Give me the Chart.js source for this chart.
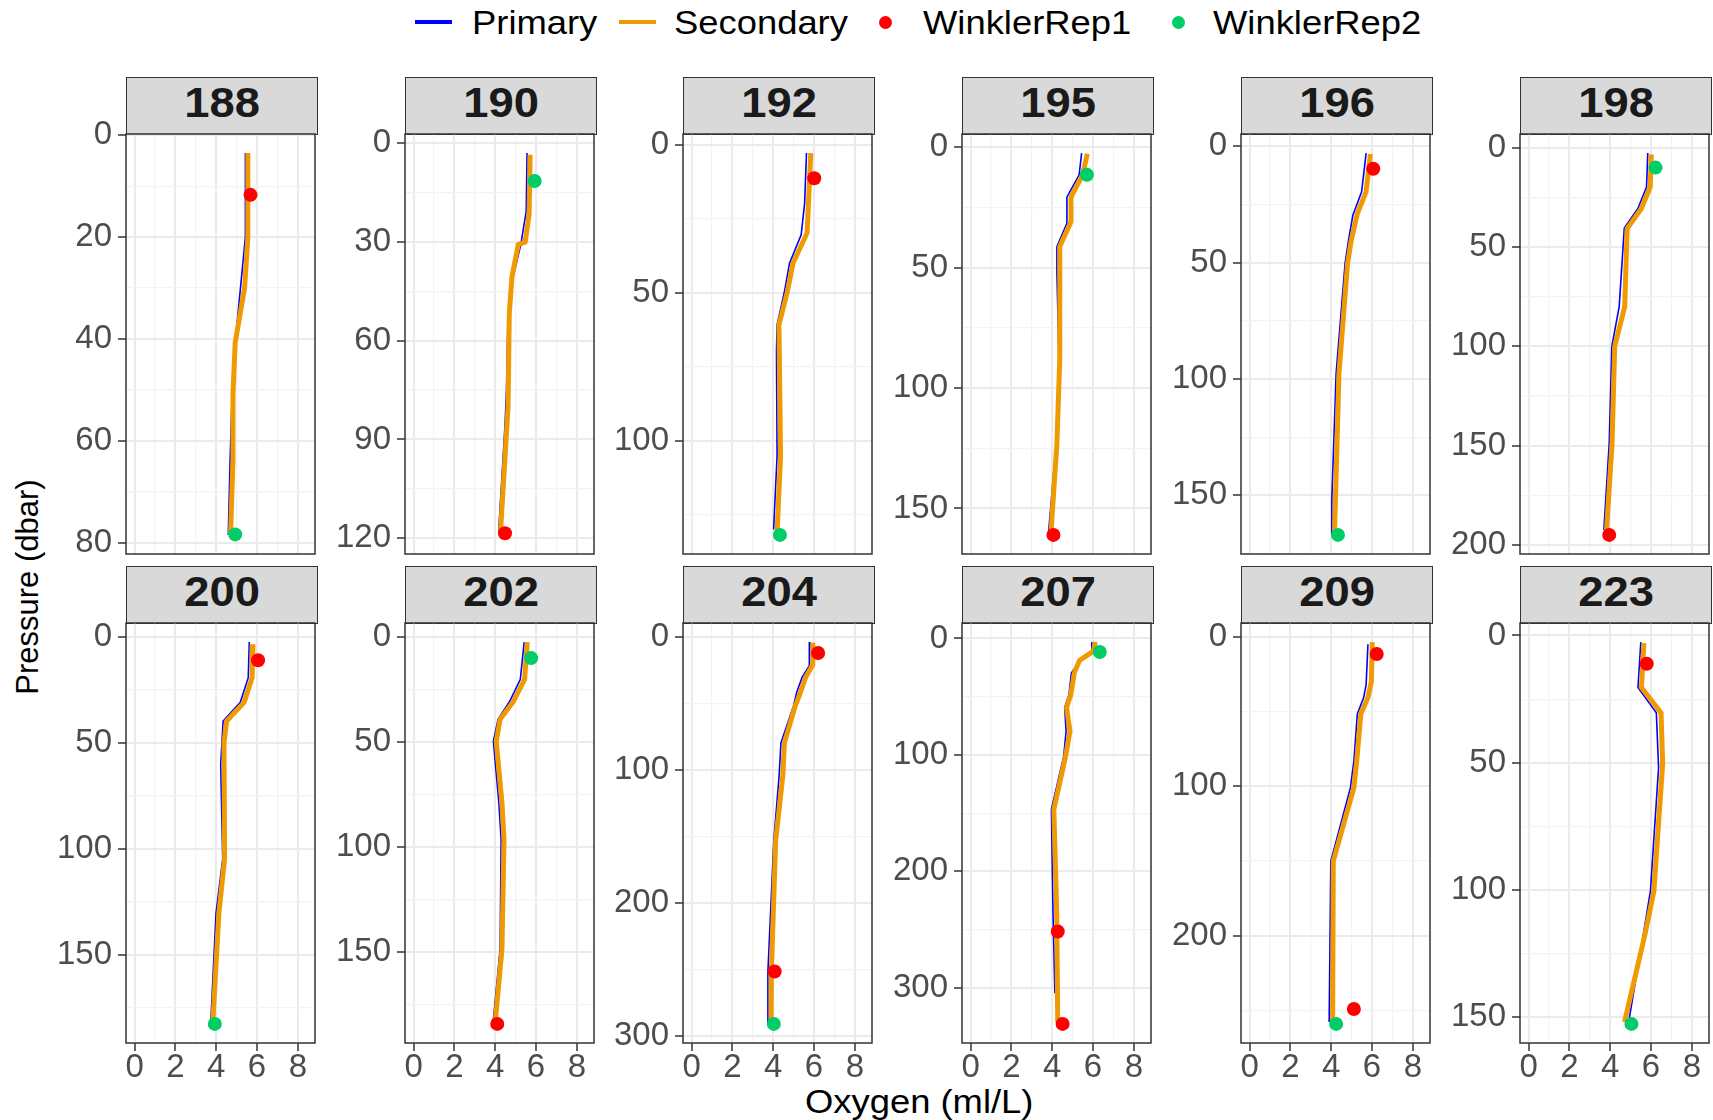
<!DOCTYPE html>
<html>
<head>
<meta charset="utf-8">
<script src="https://cdn.jsdelivr.net/npm/chart.js@4.4.1/dist/chart.umd.min.js"></script>
<style>
  body { margin: 0; background: #fff; width: 1713px; height: 1120px; overflow: hidden; position: relative;
         font-family: "Liberation Sans", Arial, sans-serif; }
  canvas { position: absolute; }
  .strip { position: absolute; box-sizing: border-box; background: #D9D9D9; border: 1.5px solid #333;
           display: flex; align-items: center; justify-content: center; font-weight: bold; font-size: 42px; color: #1A1A1A; }
  .strip span { display: inline-block; transform: translateY(-3px) scaleX(1.08); }
  .txt { position: absolute; white-space: nowrap; font-size: 34px; color: #000; height: 44px; line-height: 44px;
         transform-origin: left center; transform: scaleX(1.07); }
  .key { position: absolute; height: 4px; width: 37px; top: 20px; }
  .dot { position: absolute; width: 13px; height: 13px; border-radius: 50%; top: 16px; }
</style>
</head>
<body>

<div class="key" style="left:415px;background:#0000FF"></div>
<div class="txt" style="left:472px;top:0">Primary</div>
<div class="key" style="left:619px;background:#EE9A00"></div>
<div class="txt" style="left:674px;top:0">Secondary</div>
<div class="dot" style="left:879px;background:#FF0000"></div>
<div class="txt" style="left:923px;top:0">WinklerRep1</div>
<div class="dot" style="left:1172px;background:#00CD66"></div>
<div class="txt" style="left:1213px;top:0">WinklerRep2</div>

<div class="txt" id="xtitle" style="top:1079px;font-size:34px">Oxygen (ml/L)</div>
<div class="txt" id="ytitle" style="font-size:31px">Pressure (dbar)</div>

<script>
// stations (facets) and their major tick step on the pressure axis
const stations = ['188', '190', '192', '195', '196', '198', '200', '202', '204', '207', '209', '223'];
const majorStep = [20, 30, 50, 50, 50, 50, 50, 50, 100, 100, 100, 50];

// Primary sensor: oxygen (ml/L) and pressure (dbar)
const primaryO2 = [
  [5.43, 5.43, 4.93, 4.78, 4.68, 4.59],
  [5.56, 5.52, 5.26, 4.88, 4.63, 4.55, 4.48, 4.17],
  [5.63, 5.54, 5.37, 4.80, 4.54, 4.19, 4.16, 4.19, 4.02],
  [5.44, 5.32, 4.72, 4.72, 4.23, 4.23, 4.33, 4.20, 3.82],
  [5.71, 5.49, 5.06, 4.85, 4.68, 4.24, 4.03, 4.03],
  [5.84, 5.78, 5.35, 4.69, 4.44, 4.08, 3.95, 3.69],
  [5.62, 5.57, 5.18, 4.34, 4.22, 4.32, 3.99, 3.74],
  [5.42, 5.23, 4.71, 4.14, 3.91, 4.18, 4.29, 4.24, 3.91],
  [5.80, 5.77, 5.42, 5.16, 4.99, 4.38, 4.29, 4.03, 3.74, 3.74],
  [5.94, 5.94, 5.42, 4.94, 4.82, 4.61, 4.68, 4.56, 3.96, 4.04, 4.13],
  [5.80, 5.71, 5.59, 5.28, 5.11, 4.94, 3.98, 3.90],
  [5.50, 5.36, 6.26, 6.37, 5.97, 5.62, 4.92]
];
const primaryP = [
  [3.5, 20, 40.7, 51, 64, 78.5],
  [3.0, 20.6, 30.6, 40.6, 51.7, 75.7, 85.8, 117.9],
  [2.8, 19.7, 30.4, 40, 50, 60.8, 70, 105, 130],
  [2.5, 11.5, 20.8, 31.6, 41.3, 52, 88, 123, 160],
  [3.0, 19.6, 29.7, 40.4, 50.4, 97.7, 152, 166.5],
  [2.7, 19.8, 30.7, 40.4, 80, 100, 149, 192.5],
  [2.4, 19.2, 30.8, 39.7, 60.2, 104.7, 130.3, 180.8],
  [2.6, 20.3, 30.7, 39.3, 49.7, 79, 96.5, 148.5, 182.3],
  [3.6, 21.3, 30, 41, 52, 79.3, 104, 153, 251.6, 291],
  [3.1, 12.5, 17.2, 29.7, 48.4, 59.4, 79.7, 101.6, 146.9, 236, 304.7],
  [4.9, 32, 40.5, 51.5, 83, 101, 150, 257.8],
  [2.6, 20.4, 30.4, 51.9, 100.4, 117.6, 151.1]
];

// Secondary sensor
const secondaryO2 = [
  [5.55, 5.55, 5.39, 4.93, 4.82, 4.82, 4.70],
  [5.71, 5.66, 5.47, 5.13, 4.82, 4.69, 4.63, 4.25],
  [5.84, 5.66, 4.97, 4.68, 4.28, 4.36, 4.19],
  [5.72, 5.49, 4.92, 4.92, 4.37, 4.37, 4.23, 3.94],
  [5.92, 5.71, 5.28, 4.97, 4.80, 4.38, 4.16],
  [6.01, 5.96, 5.52, 4.83, 4.71, 4.22, 4.09, 3.82],
  [5.80, 5.76, 5.37, 4.51, 4.38, 4.41, 4.13, 3.84],
  [5.57, 5.44, 4.90, 4.24, 4.05, 4.33, 4.43, 4.33, 4.01],
  [5.94, 5.94, 5.59, 5.28, 5.07, 4.55, 4.47, 4.12, 3.91, 3.90],
  [6.11, 6.02, 5.34, 5.08, 4.91, 4.70, 4.87, 4.65, 4.08, 4.22, 4.27],
  [6.01, 5.97, 5.80, 5.45, 5.25, 5.11, 4.10, 4.07],
  [5.65, 5.53, 6.49, 6.57, 6.14, 5.70, 4.70]
];
const secondaryP = [
  [3.5, 20, 30, 40.7, 51, 64, 78.5],
  [3.5, 21.6, 30.0, 30.8, 40.6, 51.7, 80, 119],
  [2.8, 29.8, 40, 50, 60.8, 105, 131],
  [2.8, 11.5, 20.8, 31, 41.3, 88, 123, 160],
  [3.4, 19.6, 29, 41, 50.4, 97.7, 166.5],
  [3.4, 19.8, 30.7, 40.7, 80, 100, 149, 192.5],
  [3.4, 19.2, 30.8, 39.7, 50, 104.7, 130.3, 180.8],
  [2.6, 20.3, 30.7, 39.3, 49.7, 79, 96.5, 148.5, 182.3],
  [4.1, 20.5, 30, 43.8, 52, 79.3, 104, 153, 251.6, 291],
  [3.1, 10.9, 18.8, 29.7, 48.4, 59.4, 79.7, 101.6, 146.9, 236, 329.7],
  [3.4, 29.6, 40.5, 51.5, 83, 101, 150, 257.8],
  [3, 20.4, 30.4, 50.4, 100.4, 117.6, 151.9]
];

// Winkler titration replicates
const rep1O2 = [[5.68], [4.48], [6.01], [4.06], [6.06], [3.95], [6.05], [4.10], [6.20, 4.07], [4.27, 4.51], [6.23, 5.11], [5.79]];
const rep1P  = [[11.7], [118.5], [11.3], [161], [9.7], [195], [11], [184], [11.8, 251.6], [251.6, 331], [11.4, 249], [11.1]];
const rep2O2 = [[4.93], [5.93], [4.33], [5.70], [4.33], [6.22], [3.93], [5.76], [4.03], [6.33], [4.24], [5.04]];
const rep2P  = [[78.4], [11.5], [131.8], [11.5], [167], [10], [182.5], [10.2], [291], [11.6], [259], [152.6]];

const xTicks = [0, 2, 4, 6, 8];

// layout
const panelW = 192, plotH = 420, axisW = 90, stripH = 57;
const stripTop = [76.5, 566];
const colLeft = i => 125.8 + i * 278.8;

const panelBorder = {
  id: 'panelBorder',
  afterDraw(chart) {
    const a = chart.chartArea, c = chart.ctx;
    c.save();
    c.strokeStyle = '#333333';
    c.lineWidth = 1.5;
    c.strokeRect(a.left, a.top, a.right - a.left, a.bottom - a.top);
    c.restore();
  }
};

function pts(xs, ys) { return xs.map((x, k) => ({ x: x, y: ys[k] })); }
function isMult(v, s) { return Math.abs(v / s - Math.round(v / s)) < 1e-6; }
function stepTicks(lo, hi, step) {
  const out = [];
  for (let v = Math.ceil(lo / step) * step; v <= hi + 1e-9; v += step) out.push({ value: Math.round(v * 1000) / 1000 });
  return out;
}

stations.forEach((st, i) => {
  const row = i < 6 ? 0 : 1, col = i % 6;
  const bottom = row === 1;
  const L = colLeft(col);
  const pTop = stripTop[row] + stripH;

  const strip = document.createElement('div');
  strip.className = 'strip';
  strip.style.left = L + 'px';
  strip.style.top = stripTop[row] + 'px';
  strip.style.width = panelW + 'px';
  strip.style.height = (stripH + 1) + 'px';
  strip.innerHTML = '<span>' + st + '</span>';
  document.body.appendChild(strip);

  const allP = primaryP[i].concat(secondaryP[i], rep1P[i], rep2P[i]);
  const pmin = Math.min(...allP), pmax = Math.max(...allP);
  const pad = (pmax - pmin) * 0.05;
  const major = majorStep[i], minor = major / 2;

  const padTop = 22, padRight = 4, xH = bottom ? 52 : 0, padBottom = bottom ? 0 : 10;
  const cv = document.createElement('canvas');
  const W = axisW + panelW + padRight, H = padTop + plotH + xH + padBottom;
  cv.width = W; cv.height = H;
  cv.style.width = W + 'px'; cv.style.height = H + 'px';
  cv.style.left = (L - axisW) + 'px';
  cv.style.top = (pTop - padTop) + 'px';
  document.body.appendChild(cv);

  new Chart(cv, {
    type: 'line',
    data: {
      datasets: [
        { label: 'WinklerRep1', data: pts(rep1O2[i], rep1P[i]), showLine: false, pointRadius: 7,
          pointBackgroundColor: '#FF0000', pointBorderWidth: 0, order: 0 },
        { label: 'WinklerRep2', data: pts(rep2O2[i], rep2P[i]), showLine: false, pointRadius: 7,
          pointBackgroundColor: '#00CD66', pointBorderWidth: 0, order: 0 },
        { label: 'Secondary', data: pts(secondaryO2[i], secondaryP[i]), borderColor: '#EE9A00',
          borderWidth: 5, pointRadius: 0, tension: 0, order: 1 },
        { label: 'Primary', data: pts(primaryO2[i], primaryP[i]), borderColor: '#0000FF',
          borderWidth: 1.6, pointRadius: 0, tension: 0, order: 2 }
      ]
    },
    plugins: [panelBorder],
    options: {
      responsive: false,
      animation: false,
      layout: { padding: { top: padTop, right: padRight, bottom: padBottom, left: 0 } },
      plugins: { legend: { display: false }, tooltip: { enabled: false } },
      scales: {
        x: {
          type: 'linear', min: -0.42, max: 8.84,
          afterBuildTicks: s => { s.ticks = stepTicks(s.min, s.max, 1); },
          afterFit: s => { s.height = xH; s.paddingLeft = 0; s.paddingRight = 0; },
          border: { display: false },
          grid: {
            color: c => (c.tick && xTicks.includes(c.tick.value)) ? '#EBEBEB' : '#F3F3F3',
            lineWidth: c => (c.tick && xTicks.includes(c.tick.value)) ? 2 : 1.2,
            drawTicks: bottom, tickLength: 8, tickWidth: 1.5,
            tickColor: c => (c.tick && xTicks.includes(c.tick.value)) ? '#333333' : 'rgba(0,0,0,0)'
          },
          ticks: {
            display: bottom, color: '#4D4D4D', padding: -3, maxRotation: 0, autoSkip: false,
            font: { family: 'Liberation Sans', size: 33 },
            callback: v => xTicks.includes(v) ? String(v) : ''
          }
        },
        y: {
          type: 'linear', reverse: true, min: pmin - pad, max: pmax + pad,
          ticks: {
            stepSize: minor, color: '#4D4D4D', padding: 6, autoSkip: false,
            font: { family: 'Liberation Sans', size: 33 },
            callback: v => isMult(v, major) ? String(v) : ''
          },
          afterBuildTicks: s => { s.ticks = stepTicks(s.min, s.max, minor); },
          afterFit: s => { s.width = axisW; s.paddingTop = 0; s.paddingBottom = 0; },
          border: { display: false },
          grid: {
            color: c => (c.tick && isMult(c.tick.value, major)) ? '#EBEBEB' : '#F3F3F3',
            lineWidth: c => (c.tick && isMult(c.tick.value, major)) ? 2 : 1.2,
            tickLength: 8, tickWidth: 1.5,
            tickColor: c => (c.tick && isMult(c.tick.value, major)) ? '#333333' : 'rgba(0,0,0,0)'
          }
        }
      }
    }
  });
});

// axis titles centred on the panel block
const xt = document.getElementById('xtitle');
xt.style.left = (919 - xt.offsetWidth * 1.07 / 2) + 'px';
const yt = document.getElementById('ytitle');
yt.style.transformOrigin = 'center center';
yt.style.transform = 'rotate(-90deg) scaleX(1.0)';
yt.style.left = (27 - yt.offsetWidth / 2) + 'px';
yt.style.top = (587 - 22) + 'px';
</script>
</body>
</html>
